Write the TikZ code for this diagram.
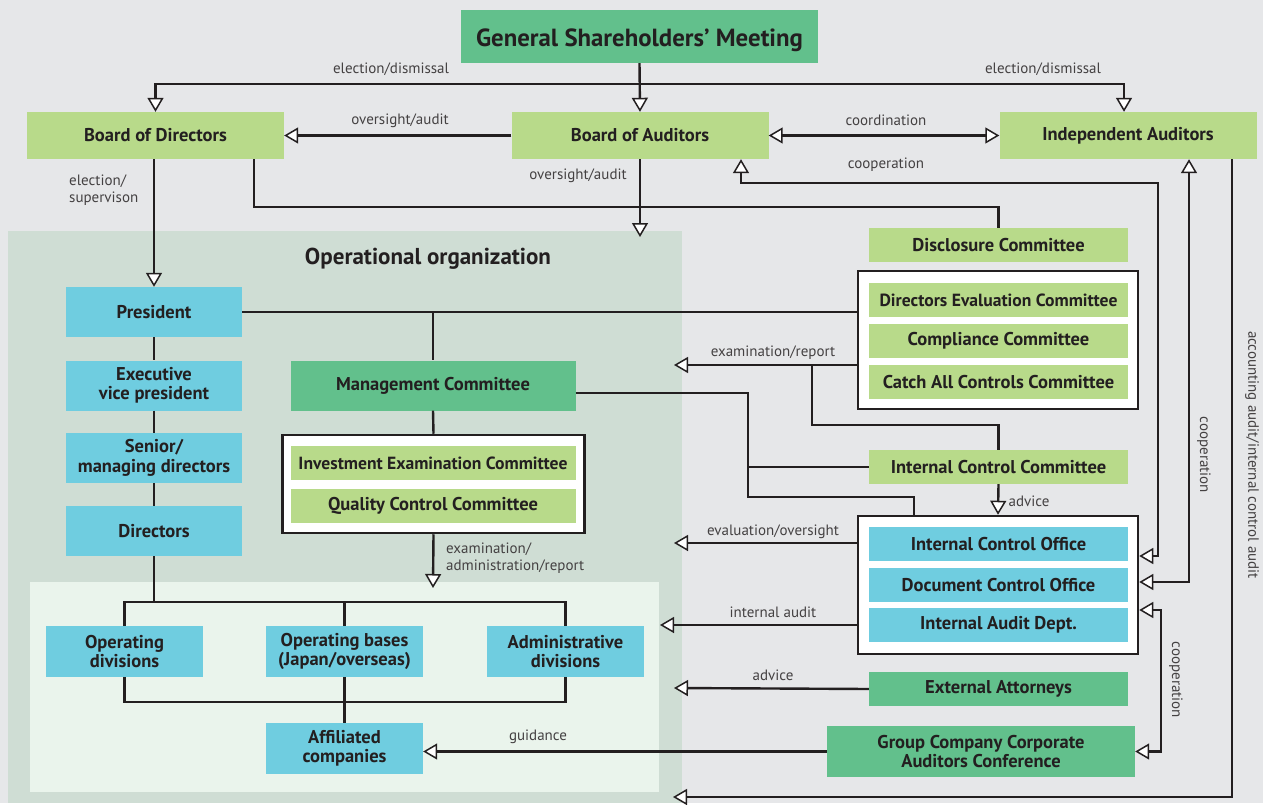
\documentclass[tikz,border=0pt]{standalone}
\usepackage{fontspec}
\setmainfont{PT Sans}
\usetikzlibrary{arrows.meta,positioning}

\definecolor{bgGrey}{HTML}{E6E7E9}
\definecolor{opGreen}{HTML}{CFDDD4}
\definecolor{opLight}{HTML}{EAF4EC}
\definecolor{boxCyan}{HTML}{6FCDE0}
\definecolor{boxLight}{HTML}{B8DA8A}
\definecolor{boxMid}{HTML}{62C08C}
\definecolor{ink}{HTML}{231F20}

\tikzset{
  unit/.style={inner sep=0pt, align=center, text=ink,
    font=\fontsize{18.5}{19.5}\selectfont\bfseries},
  lgbox/.style={unit, fill=boxLight},
  mgbox/.style={unit, fill=boxMid},
  cybox/.style={unit, fill=boxCyan},
  topsize/.style={minimum width=257pt, minimum height=47pt},
  comsize/.style={minimum width=259pt, minimum height=34pt},
  leftsize/.style={minimum width=176pt, minimum height=50pt},
  divsize/.style={minimum width=157pt, minimum height=51pt},
  longname/.style={font=\fontsize{17.6}{19}\selectfont\bfseries},
  groupbox/.style={draw=ink, line width=2.5pt, fill=white, inner sep=0pt},
  conn/.style={draw=ink, line width=2.4pt},
  lbl/.style={inner sep=0pt, text=ink!85, font=\fontsize{15}{17}\selectfont},
}

\begin{document}
\begin{tikzpicture}[x=1pt, y=-1pt,
    >={Triangle[length=14pt, width=16pt, fill=white, line width=1.5pt]}]
    % background areas
    \fill[bgGrey] (0,0) rectangle (1263,803);
    \fill[opGreen] (8,231) rectangle (682,803);
    \fill[opLight] (30,582) rectangle (659,792);

    % governance
    \node[mgbox, minimum width=357pt, minimum height=53pt,
      font=\fontsize{24.8}{26}\selectfont\bfseries] (gsm) at (639.5,36.5)
      {\raisebox{-3.5pt}[\height][\depth]{General Shareholders’ Meeting}};
    \node[lgbox, topsize] (bod) at (155.5,135.5) {Board of Directors};
    \node[lgbox, topsize] (boa) at (640,135.5) {Board of Auditors};
    \node[lgbox, topsize] (ia) at (1128,135.5) {Independent Auditors};

    % committees on the right
    \node[lgbox, comsize] (disc) at (998.5,245) {Disclosure Committee};
    \node[groupbox, minimum width=280pt, minimum height=138pt] (evalbox) at (998,340) {};
    \node[lgbox, comsize, longname] (dec) at (998.5,300) {Directors Evaluation Committee};
    \node[lgbox, comsize] (cc) at (998.5,341) {Compliance Committee};
    \node[lgbox, comsize] (cacc) at (998.5,382) {Catch All Controls Committee};
    \node[lgbox, comsize] (icc) at (998.5,467) {Internal Control Committee};
    \node[groupbox, minimum width=280pt, minimum height=138pt] (ctrl) at (998,585) {};
    \node[cybox, comsize] (ico) at (998.5,544) {Internal Control Office};
    \node[cybox, comsize] (dco) at (998.5,585) {Document Control Office};
    \node[cybox, comsize] (iad) at (998.5,625) {Internal Audit Dept.};
    \node[mgbox, comsize] (ext) at (998.5,689) {External Attorneys};
    \node[mgbox, minimum width=308pt, minimum height=51pt] (group) at (981,751.5)
      {Group Company Corporate\\Auditors Conference};

    % operational organization
    \node[unit, font=\fontsize{23}{25}\selectfont\bfseries] (optitle) at (428,258.5) {Operational organization};
    \node[cybox, leftsize] (pres) at (154,312) {President};
    \node[cybox, leftsize] (evp) at (154,385.5) {Executive\\vice president};
    \node[cybox, leftsize] (smd) at (154,458) {Senior/\\managing directors};
    \node[cybox, leftsize] (dirs) at (154,531) {Directors};
    \node[mgbox, minimum width=285pt, minimum height=50pt] (mc) at (433,385.5) {Management Committee};
    \node[groupbox, minimum width=302pt, minimum height=98pt] (invbox) at (433.5,484) {};
    \node[lgbox, longname, minimum width=285pt, minimum height=34pt] (iec) at (433,463) {Investment Examination Committee};
    \node[lgbox, minimum width=285pt, minimum height=34pt] (qcc) at (433,506) {Quality Control Committee};
    \node[cybox, divsize] (od) at (124.5,651.5) {Operating\\divisions};
    \node[cybox, divsize] (ob) at (344.5,651.5) {Operating bases\\(Japan/overseas)};
    \node[cybox, divsize] (ad) at (565.5,651.5) {Administrative\\divisions};
    \node[cybox, divsize] (ac) at (344.5,748.5) {Affiliated\\companies};

    % free ends
    \coordinate (split) at (640,84);
    \coordinate (boaDown) at (640,237);
    \coordinate (mgmtDown) at (433,588);
    \coordinate (exRep) at (674,365);
    \coordinate (evalOv) at (674,543);
    \coordinate (intAud) at (660,625);
    \coordinate (advOut) at (674,688);
    \coordinate (acctEnd) at (673,797);

    % top connectors
    \draw[conn,->] (gsm.south) -- (boa.north);
    \draw[conn,->] (split) -| (bod.north);
    \draw[conn,->] (split) -| ([xshift=-4pt]ia.north);
    \draw[conn,->] (boa.west) -- (bod.east);
    \draw[conn,<->] (boa.east) -- (ia.west);
    \draw[conn,<->] (ctrl.east |- 0,556) -| (1158,183) -| (741,0 |- boa.south);
    \draw[conn,->] (boa.south) -- (boaDown);
    \draw[conn] (254,0 |- bod.south) |- (disc.north |- 0,207) -- (disc.north);
    \draw[conn,->] (bod.south -| pres.north) -- (pres.north);
    \draw[conn,<->] (ctrl.east |- 0,582) -| (1189,0 |- ia.south);
    \draw[conn,->] (1232,0 |- ia.south) |- (acctEnd);

    % operational lines
    \draw[conn] (pres.east) -- (pres.east -| evalbox.west);
    \draw[conn] (pres.east -| mc.north) -- (mc.north);
    \draw[conn] (mc.south) -- (invbox.north);
    \draw[conn,->] (invbox.south) -- (mgmtDown);
    \draw[conn] (pres.south) -- (evp.north);
    \draw[conn] (evp.south) -- (smd.north);
    \draw[conn] (smd.south) -- (dirs.north);
    \draw[conn] (dirs.south) -- (dirs.south |- 0,602);
    \draw[conn] (od.north) |- (ad.north |- 0,602) -- (ad.north);
    \draw[conn] (ob.north) -- (ob.north |- 0,602);
    \draw[conn] (od.south) |- (ad.south |- 0,702) -- (ad.south);
    \draw[conn] (ob.south) -- (ac.north);

    % right side connectors
    \draw[conn,->] (evalbox.west |- exRep) -- (exRep);
    \draw[conn] (812,0 |- exRep) |- (icc.north |- 0,425) -- (icc.north);
    \draw[conn] (mc.east |- 0,393) -| (748,497) -| (914,0 |- ctrl.north);
    \draw[conn] (icc.west) -- (icc.west -| 748,0);
    \draw[conn,->] (icc.south) -- (ctrl.north);
    \draw[conn,->] (ctrl.west |- evalOv) -- (evalOv);
    \draw[conn,->] (ctrl.west |- intAud) -- (intAud);
    \draw[conn,<->] (ctrl.east |- 0,610) -- (1161,610) |- (group.east);
    \draw[conn,->] (ext.west) -- (advOut);
    \draw[conn,->] (group.west) -- (group.west -| ac.east);

    % labels
    \node[lbl] (lElecL) at (391,69.5) {election/dismissal};
    \node[lbl] (lElecR) at (1043,69.5) {election/dismissal};
    \node[lbl] (lOvTop) at (400,120.5) {oversight/audit};
    \node[lbl] (lCoord) at (886,120.5) {coordination};
    \node[lbl] (lCoopA) at (886,164.5) {cooperation};
    \node[lbl] (lOvDown) at (578,175.5) {oversight/audit};
    \node[lbl, anchor=west, align=left] (lSuper) at (69,190) {election/\\supervison};
    \node[lbl, anchor=west, align=left] (lExAdm) at (446,558) {examination/\\administration/report};
    \node[lbl] (lExRep) at (773,352.5) {examination/report};
    \node[lbl] (lAdvIcc) at (1029,501.5) {advice};
    \node[lbl] (lEvalOv) at (773,531.5) {evaluation/oversight};
    \node[lbl] (lIntAud) at (773,612.5) {internal audit};
    \node[lbl] (lAdvExt) at (773,675.5) {advice};
    \node[lbl] (lGuide) at (538,736.5) {guidance};
    \node[lbl, rotate=-90] (lCoopB) at (1204,455) {cooperation};
    \node[lbl, rotate=-90] (lCoopC) at (1176,680) {cooperation};
    \node[lbl, rotate=-90] (lAcct) at (1252,455) {accounting audit/internal control audit};
\end{tikzpicture}
\end{document}
